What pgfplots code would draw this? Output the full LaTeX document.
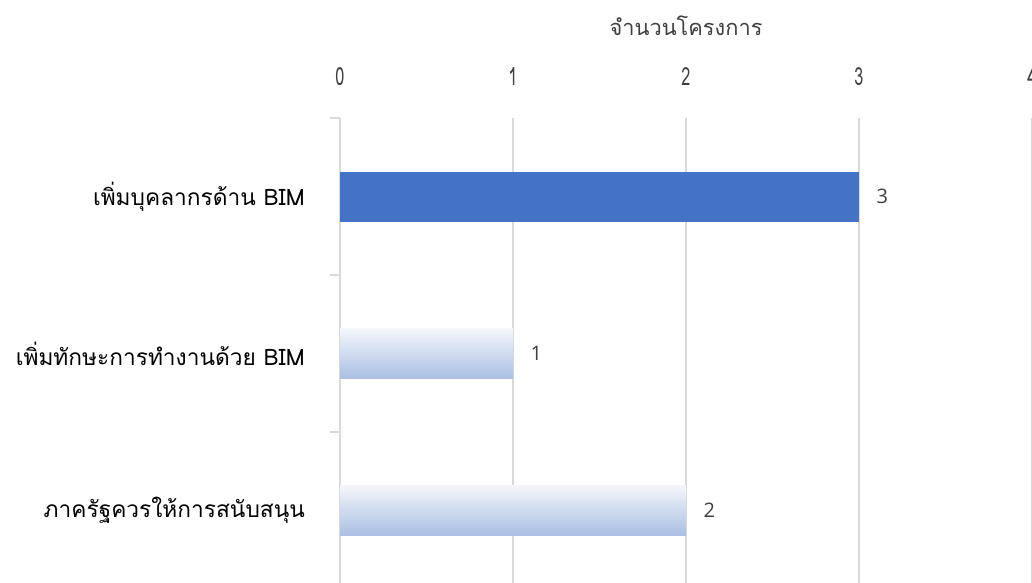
\documentclass[border=0pt]{standalone}
\usepackage{pgfplots}
\pgfplotsset{compat=1.18}
\usepackage{fontspec}
\setmainfont{Open Sans}
\newfontfamily\thaifont[Script=Thai]{Loma}
\newfontfamily\thaicond[Script=Thai, FakeStretch=0.65]{Loma}
\definecolor{barblue}{HTML}{4472C4}
\definecolor{gradtop}{HTML}{F4F6FB}
\definecolor{gradmid}{HTML}{C9D6EE}
\definecolor{gradbot}{HTML}{AABFE3}
\definecolor{gridgray}{HTML}{D9D9D9}
\definecolor{labgray}{HTML}{404040}
\begin{document}
\begin{tikzpicture}
\useasboundingbox (0,0) rectangle (1032pt,-582pt);
\clip (0,0) rectangle (1032pt,-582pt);
\begin{axis}[
  at={(340pt,-118pt)}, anchor=north west,
  width=692pt, height=471pt, scale only axis,
  xmin=0, xmax=4, ymin=-0.5, ymax=2.5, y dir=reverse,
  axis x line*=top, axis y line*=left,
  x axis line style={draw=none},
  y axis line style={draw=gridgray, line width=1.5pt},
  xtick={0,1,2,3,4},
  xmajorgrids, grid style={gridgray, line width=1.5pt},
  major x tick style={draw=none},
  xticklabel style={font=\thaicond\fontsize{25}{28}\selectfont, text=labgray, anchor=center, yshift=41pt},
  /pgf/number format/assume math mode=true,
  ytick={0,1,2},
  yticklabels={เพิ่มบุคลากรด้าน BIM, เพิ่มทักษะการทำงานด้วย BIM, ภาครัฐควรให้การสนับสนุน},
  yticklabel style={font=\thaifont\fontsize{22.7}{26}\selectfont, text=black, anchor=east, inner sep=0pt, xshift=-35pt},
  major tick length=0pt,
  minor ytick={-0.5,0.5,1.5,2.5},
  minor tick length=10pt, tick align=outside,
  minor y tick style={gridgray, line width=1.5pt},
  title={จำนวนโครงการ},
  title style={font=\thaifont\fontsize{21.8}{26}\selectfont, text=labgray, at={(0.5,1)}, anchor=center, yshift=86pt},
  point meta=x,
  nodes near coords,
  nodes near coords style={font=\fontsize{20}{24}\selectfont, text=labgray, anchor=west, xshift=14pt},
]
\addplot[xbar, bar width=50pt, bar shift=0pt, fill=barblue, draw=none] coordinates {(3,0)};
\addplot[xbar, bar width=50pt, bar shift=0pt, top color=gradtop, middle color=gradmid, bottom color=gradbot, draw=none] coordinates {(1,1)};
\addplot[xbar, bar width=50pt, bar shift=0pt, top color=gradtop, middle color=gradmid, bottom color=gradbot, draw=none] coordinates {(2,2)};
\end{axis}
\end{tikzpicture}
\end{document}
